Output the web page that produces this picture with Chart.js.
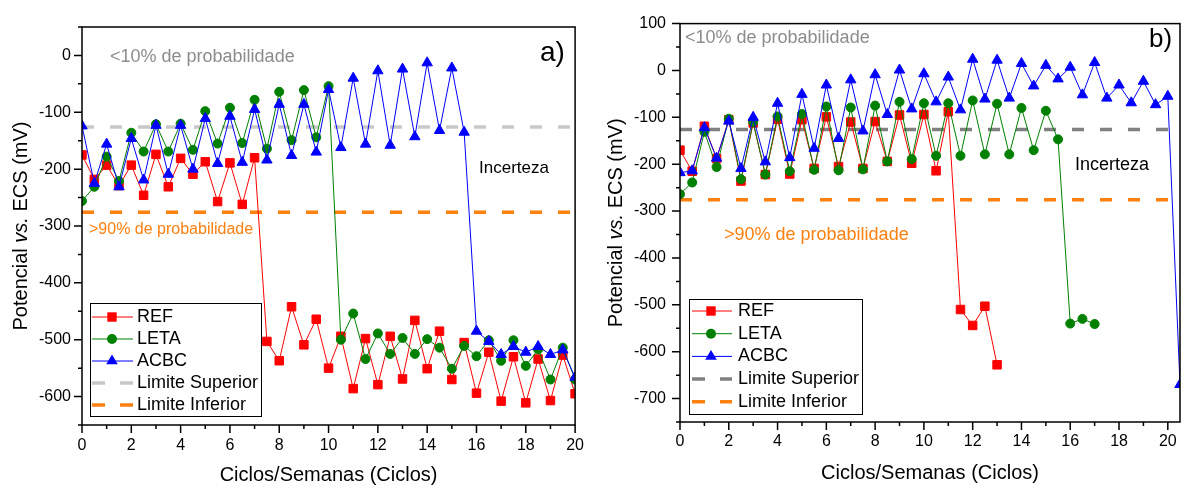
<!DOCTYPE html>
<html>
<head>
<meta charset="utf-8">
<script src="https://cdn.jsdelivr.net/npm/chart.js@4.4.1/dist/chart.umd.min.js"></script>
<style>
  html, body { margin: 0; padding: 0; background: #fff; }
  #chartA { position: absolute; left: 0; top: 0; }
  #chartB { position: absolute; left: 595px; top: 0; }
</style>
</head>
<body>
<canvas id="chartA" width="595" height="490"></canvas>
<canvas id="chartB" width="592" height="490"></canvas>
<script>
// Ciclos (eixo x), de meio em meio ciclo
const ciclos = [0, 0.5, 1, 1.5, 2, 2.5, 3, 3.5, 4, 4.5, 5, 5.5, 6, 6.5, 7, 7.5, 8, 8.5, 9, 9.5, 10,
  10.5, 11, 11.5, 12, 12.5, 13, 13.5, 14, 14.5, 15, 15.5, 16, 16.5, 17, 17.5, 18, 18.5, 19, 19.5, 20, 20.5];

// Painel a)
const refA = [-175, -218, -193, -229, -193, -246, -174, -231, -181, -209, -187, -257, -189, -262, -180, -503,
  -537, -442, -509, -464, -550, -494, -586, -498, -579, -494, -569, -466, -551, -485, -570, -505, -594, -522,
  -608, -530, -611, -534, -607, -527, -595];
const letaA = [-256, -231, -178, -221, -136, -169, -121, -169, -120, -166, -98, -155, -92, -154, -78, -164,
  -64, -149, -61, -144, -54, -500, -454, -534, -489, -525, -497, -525, -499, -514, -551, -511, -529, -501,
  -537, -501, -546, -517, -570, -514, -570];
const acbcA = [-124, -225, -156, -231, -146, -219, -123, -209, -123, -200, -111, -190, -107, -188, -95, -184,
  -86, -176, -86, -170, -60, -162, -40, -156, -27, -158, -24, -143, -13, -132, -22, -135, -485, -503, -526,
  -512, -522, -512, -526, -518, -566];

// Painel b)
const refB = [-170, -215, -119, -188, -105, -236, -112, -222, -104, -221, -105, -209, -99, -205, -110, -209,
  -109, -194, -95, -198, -94, -214, -88, -510, -544, -503, -628];
const letaB = [-264, -239, -131, -206, -103, -232, -110, -222, -98, -215, -93, -212, -77, -213, -79, -211,
  -75, -194, -67, -189, -70, -182, -70, -182, -64, -179, -71, -179, -80, -170, -86, -147, -540, -530, -541];
const acbcB = [-218, -214, -122, -187, -108, -209, -100, -195, -70, -186, -51, -166, -31, -145, -20, -129,
  -9, -94, 1, -82, -7, -67, -14, -84, 24, -61, 22, -59, 15, -33, 11, -18, 7, -52, 17, -59, -31, -69, -23,
  -73, -55, -670];

// Limites (mV vs. ECS)
const limiteSuperior = -126;
const limiteInferior = -276;
const limiteXA = [0, 20];
const limiteXB = [0, 20.5];

const cores = { ref: '#ff0000', leta: '#008000', acbc: '#0000ff', inf: '#ff7f0f' };

Chart.defaults.font.family = '"Liberation Sans", Arial, sans-serif';
Chart.defaults.color = '#000';

function serie(xs, ys) {
  return ys.map((y, i) => ({ x: xs[i], y: y }));
}

function montaDatasets(ref, leta, acbc, limX, corSup) {
  const base = { borderWidth: 1, pointBorderWidth: 1, tension: 0 };
  return [
    Object.assign({ label: 'ACBC', data: serie(ciclos, acbc), borderColor: cores.acbc, backgroundColor: cores.acbc,
      pointStyle: 'triangle', pointRadius: 6, order: 1 }, base),
    Object.assign({ label: 'LETA', data: serie(ciclos, leta), borderColor: cores.leta, backgroundColor: cores.leta,
      pointStyle: 'circle', pointRadius: 4.5, order: 2 }, base),
    Object.assign({ label: 'REF', data: serie(ciclos, ref), borderColor: cores.ref, backgroundColor: cores.ref,
      pointStyle: 'rect', pointRadius: 6, order: 3 }, base),
    { label: 'Limite Superior', data: serie(limX, [limiteSuperior, limiteSuperior]), borderColor: corSup,
      borderWidth: 3.5, borderDash: [12, 16], pointRadius: 0, order: 4 },
    { label: 'Limite Inferior', data: serie(limX, [limiteInferior, limiteInferior]), borderColor: cores.inf,
      borderWidth: 3.5, borderDash: [12, 16], pointRadius: 0, order: 5 }
  ];
}

function marcador(ctx, estilo, x, y, cor) {
  ctx.fillStyle = cor;
  ctx.beginPath();
  if (estilo === 'rect') ctx.rect(x - 4.7, y - 4.7, 9.4, 9.4);
  else if (estilo === 'circle') ctx.arc(x, y, 5, 0, Math.PI * 2);
  else { ctx.moveTo(x, y - 6.5); ctx.lineTo(x + 5.8, y + 3.3); ctx.lineTo(x - 5.8, y + 3.3); ctx.closePath(); }
  ctx.fill();
}

// Moldura, ticks menores, titulos, legenda e anotacoes
function decoracao(p) {
  return {
    id: 'decoracao',
    afterDraw(chart) {
      const ctx = chart.ctx;
      const a = chart.chartArea;
      const sx = chart.scales.x, sy = chart.scales.y;
      ctx.save();
      ctx.strokeStyle = '#000';
      ctx.lineWidth = 1.5;
      ctx.strokeRect(a.left, a.top, a.right - a.left, a.bottom - a.top);

      ctx.beginPath();
      for (let v = 0; v <= sx.max + 0.001; v += 1) {
        const px = sx.getPixelForValue(v);
        const len = (v % 2 === 0) ? 8 : 4;
        ctx.moveTo(px, a.bottom); ctx.lineTo(px, a.bottom + len);
      }
      for (let v = sy.min; v <= sy.max + 0.001; v += 50) {
        const py = sy.getPixelForValue(v);
        const len = (v % 100 === 0) ? 8 : 4;
        ctx.moveTo(a.left, py); ctx.lineTo(a.left - len, py);
      }
      ctx.stroke();

      // titulo do eixo x
      ctx.fillStyle = '#000';
      ctx.font = '20px "Liberation Sans", Arial, sans-serif';
      ctx.textAlign = 'center';
      ctx.textBaseline = 'middle';
      ctx.fillText('Ciclos/Semanas (Ciclos)', (a.left + a.right) / 2, p.xTituloY);

      // titulo do eixo y com "vs." em italico
      const partes = [['Potencial ', ''], ['vs.', 'italic '], [' ECS (mV)', '']];
      let total = 0;
      partes.forEach(pt => { ctx.font = pt[1] + '20px "Liberation Sans", Arial, sans-serif'; total += ctx.measureText(pt[0]).width; });
      ctx.translate(p.yTituloX, (a.top + a.bottom) / 2);
      ctx.rotate(-Math.PI / 2);
      ctx.textAlign = 'left';
      let cx = -total / 2;
      partes.forEach(pt => {
        ctx.font = pt[1] + '20px "Liberation Sans", Arial, sans-serif';
        ctx.fillText(pt[0], cx, 0);
        cx += ctx.measureText(pt[0]).width;
      });
      ctx.setTransform(1, 0, 0, 1, 0, 0);

      // anotacoes
      ctx.textAlign = 'left';
      p.textos.forEach(t => {
        ctx.font = t.tam + 'px "Liberation Sans", Arial, sans-serif';
        ctx.fillStyle = t.cor;
        ctx.fillText(t.txt, t.x, t.y);
      });

      // legenda
      const L = p.legenda;
      ctx.fillStyle = '#fff';
      ctx.fillRect(L.x, L.y, L.w, L.h);
      ctx.lineWidth = 1;
      ctx.strokeStyle = '#000';
      ctx.strokeRect(L.x + 0.5, L.y + 0.5, L.w, L.h);
      const itens = [
        { nome: 'REF', cor: cores.ref, est: 'rect' },
        { nome: 'LETA', cor: cores.leta, est: 'circle' },
        { nome: 'ACBC', cor: cores.acbc, est: 'triangle' },
        { nome: 'Limite Superior', cor: p.corSup, est: null },
        { nome: 'Limite Inferior', cor: cores.inf, est: null }
      ];
      itens.forEach((it, i) => {
        const y = L.linha0 + i * L.passo;
        ctx.strokeStyle = it.cor;
        if (it.est) {
          ctx.lineWidth = 1;
          ctx.setLineDash([]);
        } else {
          ctx.lineWidth = 3.5;
          ctx.setLineDash([13, 15]);
        }
        ctx.beginPath();
        ctx.moveTo(L.l0, y); ctx.lineTo(L.l1, y);
        ctx.stroke();
        ctx.setLineDash([]);
        if (it.est) marcador(ctx, it.est, L.mx, y, it.cor);
        ctx.fillStyle = '#000';
        ctx.font = '18px "Liberation Sans", Arial, sans-serif';
        ctx.fillText(it.nome, L.tx, y);
      });
      ctx.restore();
    }
  };
}

function opcoes(p) {
  return {
    responsive: false,
    animation: false,
    devicePixelRatio: 1,
    layout: { padding: p.padding },
    plugins: { legend: { display: false }, tooltip: { enabled: false } },
    scales: {
      x: {
        type: 'linear', min: 0, max: p.xMax,
        ticks: { stepSize: 2, includeBounds: false, padding: p.xPad, font: { size: 16 }, maxRotation: 0, color: '#000' },
        grid: { display: false, drawTicks: false },
        border: { display: false },
        afterFit: s => { s.height = p.xAltura; }
      },
      y: {
        type: 'linear', min: p.yMin, max: p.yMax,
        ticks: { stepSize: 50, padding: p.yPad, font: { size: 16 }, color: '#000', autoSkip: false,
          callback: v => (v % 100 === 0 ? String(v) : '') },
        grid: { display: false, drawTicks: false },
        border: { display: false },
        afterFit: s => { s.width = p.yLargura; }
      }
    }
  };
}

// Painel a)
const corSupA = '#c8c8c8';
new Chart(document.getElementById('chartA'), {
  type: 'line',
  data: { datasets: montaDatasets(refA, letaA, acbcA, limiteXA, corSupA) },
  options: opcoes({ padding: { left: 0, top: 27, right: 13, bottom: 0 }, xMax: 20, yMin: -650, yMax: 50,
    xPad: 11, yPad: 11, xAltura: 65, yLargura: 82 }),
  plugins: [decoracao({
    xTituloY: 475, yTituloX: 21, corSup: corSupA,
    textos: [
      { txt: '<10% de probabilidade', x: 110, y: 57, tam: 18, cor: '#8c8c8c' },
      { txt: '>90% de probabilidade', x: 89, y: 230, tam: 16, cor: cores.inf },
      { txt: 'Incerteza', x: 479, y: 168, tam: 17, cor: '#000' },
      { txt: 'a)', x: 540, y: 53, tam: 28, cor: '#000' }
    ],
    legenda: { x: 90, y: 303, w: 171, h: 113, linha0: 317, passo: 22, l0: 92, l1: 133, mx: 112, tx: 137 }
  })]
});

// Painel b)
const corSupB = '#808080';
new Chart(document.getElementById('chartB'), {
  type: 'line',
  data: { datasets: montaDatasets(refB, letaB, acbcB, limiteXB, corSupB) },
  options: opcoes({ padding: { left: 0, top: 16, right: 1, bottom: 0 }, xMax: 20.5, yMin: -750, yMax: 100,
    xPad: 10, yPad: 14, xAltura: 68, yLargura: 85 }),
  plugins: [decoracao({
    xTituloY: 473, yTituloX: 21, corSup: corSupB,
    textos: [
      { txt: '<10% de probabilidade', x: 90, y: 38, tam: 18, cor: '#8c8c8c' },
      { txt: '>90% de probabilidade', x: 129, y: 235, tam: 18, cor: cores.inf },
      { txt: 'Incerteza', x: 480, y: 165, tam: 18, cor: '#000' },
      { txt: 'b)', x: 554, y: 40, tam: 26, cor: '#000' }
    ],
    legenda: { x: 94, y: 299, w: 173, h: 115, linha0: 311, passo: 22.7, l0: 97, l1: 137, mx: 116, tx: 143 }
  })]
});
</script>
</body>
</html>
